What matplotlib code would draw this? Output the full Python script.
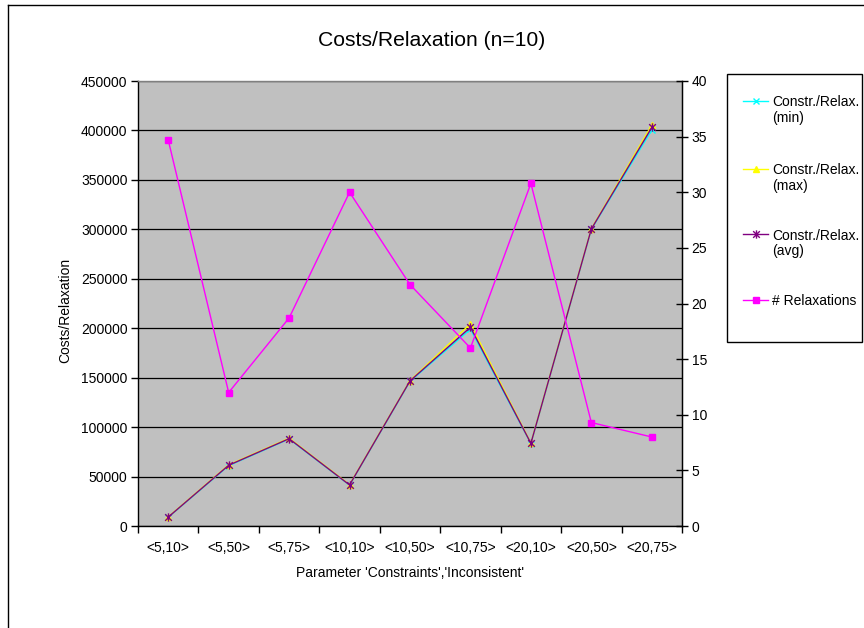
import matplotlib
matplotlib.use("Agg")
import matplotlib.pyplot as plt
from matplotlib.lines import Line2D
from matplotlib.patches import Rectangle
from matplotlib.path import Path

plt.rcParams['font.family'] = ['Liberation Sans', 'DejaVu Sans']

categories = ['<5,10>', '<5,50>', '<5,75>', '<10,10>', '<10,50>', '<10,75>',
              '<20,10>', '<20,50>', '<20,75>']
cost_min = [8800, 61000, 88000, 41300, 146300, 199000, 83400, 300000, 400500]
cost_max = [9200, 61800, 88800, 41800, 147000, 204500, 83800, 300600, 405500]
cost_avg = [9000, 61400, 88300, 41500, 146700, 201000, 83600, 300300, 403000]
relaxations = [34.7, 12.0, 18.7, 30.0, 21.7, 16.0, 30.8, 9.3, 8.0]

left_ticks = list(range(0, 450001, 50000))
right_ticks = list(range(0, 41, 5))

W, H = 864, 628
fig = plt.figure(figsize=(W / 100, H / 100), dpi=100)
fig.patch.set_facecolor('white')

def fx(x):
    return x / W

def fy(y):
    return 1 - y / H

# outer chart frame (left and top edges visible)
fig.add_artist(Line2D([fx(8), fx(8)], [fy(5), fy(640)], color='black', lw=1.0, transform=fig.transFigure))
fig.add_artist(Line2D([fx(8), fx(870)], [fy(5), fy(5)], color='black', lw=1.0, transform=fig.transFigure))

ax = fig.add_axes([fx(138), fy(526), (682 - 138) / W, (526 - 81) / H])
ax.set_facecolor('#C0C0C0')
ax.set_axisbelow(True)

x = list(range(len(categories)))

star = Path([(0, -1), (0, 1), (-0.8, -0.8), (0.8, 0.8), (-0.8, 0.8), (0.8, -0.8)],
            [Path.MOVETO, Path.LINETO, Path.MOVETO, Path.LINETO, Path.MOVETO, Path.LINETO])

ax.plot(x, cost_min, color='#00FFFF', lw=1.0, marker='x', ms=5, mew=1.0, zorder=3)
ax.plot(x, cost_max, color='#FFFF00', lw=1.0, marker='^', ms=5, mfc='#FFFF00', mec='#FFFF00', zorder=3)
ax.plot(x, cost_avg, color='#800080', lw=1.0, marker=star, ms=6, mew=1.0, zorder=4)

ax.set_xlim(-0.5, len(categories) - 0.5)
ax.set_ylim(0, 450000)
ax.set_yticks(left_ticks)
ax.set_yticklabels([str(v) for v in left_ticks], fontsize=10)
ax.yaxis.grid(True, color='black', lw=0.9)

ax.set_xticks([i - 0.5 for i in range(len(categories) + 1)])
ax.set_xticklabels([])
ax.set_xticks(x, minor=True)
ax.set_xticklabels(categories, minor=True, fontsize=10)
ax.tick_params(axis='x', which='major', direction='out', length=5, width=1, color='black')
ax.tick_params(axis='x', which='minor', length=0, pad=10.5)
ax.tick_params(axis='y', direction='out', length=5, width=1, pad=2.5)

for s in ['left', 'bottom', 'right']:
    ax.spines[s].set_color('black')
    ax.spines[s].set_linewidth(1.0)
ax.spines['top'].set_color('#808080')
ax.spines['top'].set_linewidth(1.0)

ax.set_ylabel('Costs/Relaxation', fontsize=10)
ax.yaxis.set_label_coords(-0.121, 0.485)
ax.set_xlabel("Parameter 'Constraints','Inconsistent'", fontsize=10, labelpad=8.5)

ax2 = ax.twinx()
ax2.plot(x, relaxations, color='#FF00FF', lw=1.0, marker='s', ms=5, mfc='#FF00FF', mec='#FF00FF', zorder=5)
ax2.set_ylim(0, 40)
ax2.set_yticks(right_ticks)
ax2.set_yticklabels([str(v) for v in right_ticks], fontsize=10)
ax2.tick_params(axis='y', direction='inout', length=8, width=1, pad=3)
for s in ['left', 'bottom', 'top']:
    ax2.spines[s].set_visible(False)
ax2.spines['right'].set_color('black')

fig.text(fx(432), fy(40), 'Costs/Relaxation (n=10)', ha='center', va='center', fontsize=15.2)

# legend
fig.add_artist(Rectangle((fx(727), fy(342)), (862 - 727) / W, (342 - 74) / H,
                         transform=fig.transFigure, facecolor='white', edgecolor='black', lw=1.0))
entries = [
    ('#00FFFF', 'x', '#00FFFF', 5, 'Constr./Relax.\n(min)', 101),
    ('#FFFF00', '^', '#FFFF00', 5, 'Constr./Relax.\n(max)', 169),
    ('#800080', star, '#800080', 6, 'Constr./Relax.\n(avg)', 234),
    ('#FF00FF', 's', '#FF00FF', 5, '# Relaxations', 300),
]
for col, mk, mcol, ms, lab, yy in entries:
    fig.add_artist(Line2D([fx(743), fx(768)], [fy(yy), fy(yy)], color=col, lw=1.0,
                          transform=fig.transFigure))
    fig.add_artist(Line2D([fx(755.5)], [fy(yy)], color=col, marker=mk, ms=ms, mfc=mcol, mec=mcol,
                          lw=0, transform=fig.transFigure))
    fig.text(fx(772), fy(yy - 5.5), lab, ha='left', va='top', fontsize=10, linespacing=1.17)

fig.savefig('out.png', dpi=100)
